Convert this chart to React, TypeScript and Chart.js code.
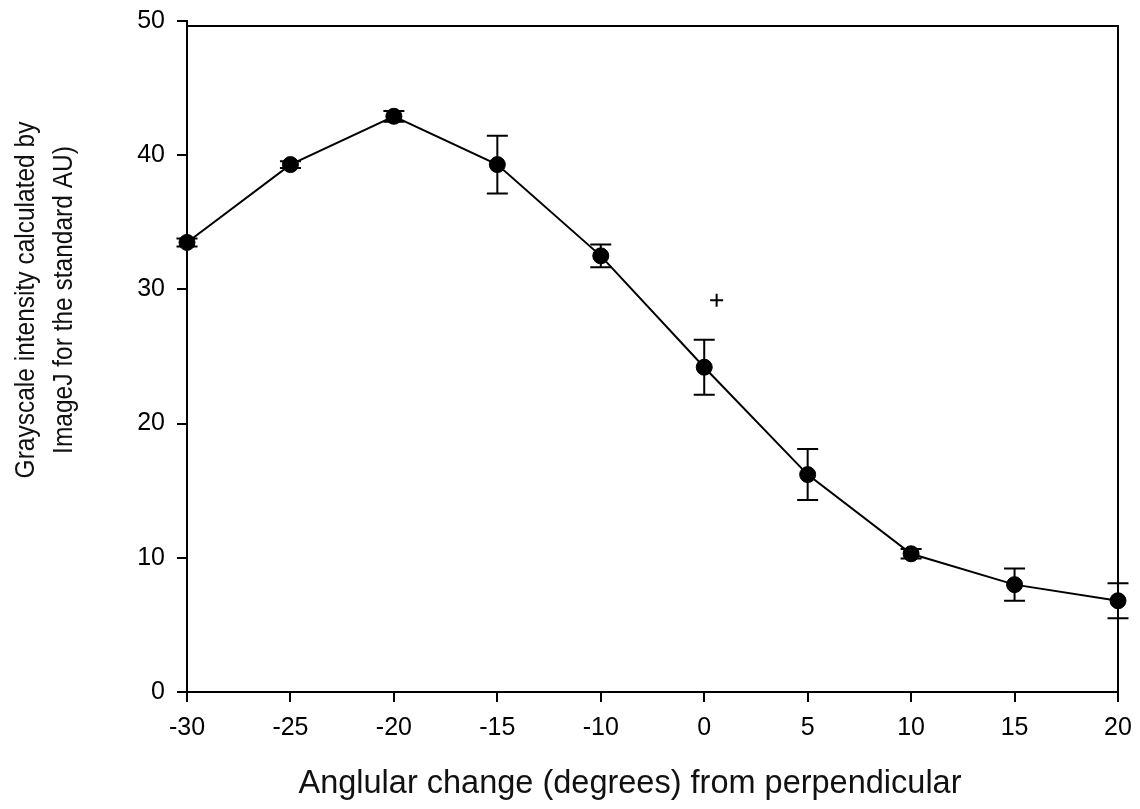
import { useEffect, useRef } from 'react';
import { Chart, registerables } from 'chart.js';

Chart.register(...registerables);

const X_LABELS = ['-30', '-25', '-20', '-15', '-10', '0', '5', '10', '15', '20'];
const MEANS = [33.5, 39.3, 42.9, 39.3, 32.5, 24.2, 16.2, 10.3, 8.0, 6.8];
const ERRORS = [0.3, 0.25, 0.4, 2.15, 0.85, 2.05, 1.9, 0.35, 1.2, 1.3];
const MARK_X = [5.12];
const MARK_Y = [29.2];
const Y_MIN = 0;
const Y_MAX = 50;
const Y_STEP = 10;
const X_TITLE = 'Anglular change (degrees) from perpendicular';
const Y_TITLE = ['Grayscale intensity calculated by', 'ImageJ for the standard AU)'];

const FONT = '"Liberation Sans", Arial, Helvetica, sans-serif';

const errorBarPlugin = {
  id: 'errorBars',
  afterDatasetsDraw(chart: any) {
    const { ctx, scales } = chart;
    const xs = scales.x;
    const ys = scales.y;
    ctx.save();
    ctx.strokeStyle = '#000';
    ctx.lineWidth = 2;
    const cap = 10.5;
    MEANS.forEach((m, i) => {
      const e = ERRORS[i];
      const px = xs.getPixelForValue(i);
      const top = ys.getPixelForValue(m + e);
      const bot = ys.getPixelForValue(m - e);
      ctx.beginPath();
      ctx.moveTo(px, top);
      ctx.lineTo(px, bot);
      ctx.moveTo(px - cap, top);
      ctx.lineTo(px + cap, top);
      ctx.moveTo(px - cap, bot);
      ctx.lineTo(px + cap, bot);
      ctx.stroke();
    });
    ctx.restore();
  },
};

const framePlugin = {
  id: 'frame',
  afterDraw(chart: any) {
    const { ctx, chartArea } = chart;
    ctx.save();
    ctx.strokeStyle = '#000';
    ctx.lineWidth = 2;
    const frameTop = chartArea.top + 5;
    ctx.beginPath();
    ctx.moveTo(chartArea.left, frameTop);
    ctx.lineTo(chartArea.right, frameTop);
    ctx.lineTo(chartArea.right, chartArea.bottom);
    ctx.stroke();
    ctx.restore();
  },
};

const titlesPlugin = {
  id: 'axisTitles',
  afterDraw(chart: any) {
    const { ctx } = chart;
    ctx.save();
    ctx.fillStyle = '#111';
    ctx.font = `32.5px ${FONT}`;
    ctx.textAlign = 'center';
    ctx.textBaseline = 'alphabetic';
    ctx.fillText(X_TITLE, 630, 793);
    ctx.font = `24.5px ${FONT}`;
    ctx.textBaseline = 'middle';
    const xs = [26, 64];
    Y_TITLE.forEach((line, i) => {
      ctx.save();
      ctx.translate(xs[i], 300);
      ctx.rotate(-Math.PI / 2);
      ctx.scale(1, 1.12);
      ctx.fillText(line, 0, 0);
      ctx.restore();
    });
    ctx.restore();
  },
};

export default function App() {
  const canvasRef = useRef<HTMLCanvasElement | null>(null);

  useEffect(() => {
    document.body.style.margin = '0';
    const canvas = canvasRef.current;
    if (!canvas) return;

    const mainData = MEANS.map((y, i) => ({ x: i, y }));
    const markData = MARK_X.map((x, i) => ({ x, y: MARK_Y[i] }));

    const chart = new Chart(canvas, {
      type: 'line',
      data: {
        datasets: [
          {
            data: mainData,
            borderColor: '#000',
            borderWidth: 2,
            backgroundColor: '#000',
            pointBackgroundColor: '#000',
            pointBorderColor: '#000',
            pointRadius: 8,
            pointBorderWidth: 1,
            tension: 0,
            fill: false,
            clip: false,
          },
          {
            data: markData,
            showLine: false,
            pointStyle: 'cross',
            pointRadius: 6.5,
            pointBorderWidth: 2,
            pointBorderColor: '#000',
            borderColor: '#000',
          },
        ],
      },
      options: {
        animation: false,
        responsive: true,
        maintainAspectRatio: false,
        layout: { autoPadding: false, padding: { top: 21, right: 22, left: 0, bottom: 0 } },
        plugins: {
          legend: { display: false },
          tooltip: { enabled: false },
        },
        scales: {
          x: {
            type: 'linear',
            min: 0,
            max: X_LABELS.length - 1,
            afterBuildTicks: (scale: any) => {
              scale.ticks = X_LABELS.map((_, i) => ({ value: i }));
            },
            afterFit: (scale: any) => {
              scale.height = 117;
              scale.paddingLeft = 0;
              scale.paddingRight = 0;
            },
            ticks: {
              callback: (v: any) => X_LABELS[Math.round(Number(v))] ?? '',
              color: '#000',
              font: { family: FONT, size: 25 },
              padding: 11,
              maxRotation: 0,
              autoSkip: false,
            },
            grid: {
              display: true,
              drawOnChartArea: false,
              drawTicks: true,
              tickLength: 10,
              color: '#000',
              lineWidth: 2,
            },
            border: { display: true, color: '#000', width: 2 },
            title: { display: false },
          },
          y: {
            type: 'linear',
            min: Y_MIN,
            max: Y_MAX,
            afterFit: (scale: any) => {
              scale.width = 187;
              scale.paddingTop = 0;
              scale.paddingBottom = 0;
            },
            ticks: {
              stepSize: Y_STEP,
              color: '#000',
              font: { family: FONT, size: 25 },
              padding: 12,
            },
            grid: {
              display: true,
              drawOnChartArea: false,
              drawTicks: true,
              tickLength: 10,
              color: '#000',
              lineWidth: 2,
            },
            border: { display: true, color: '#000', width: 2 },
            title: { display: false },
          },
        },
      },
      plugins: [errorBarPlugin, framePlugin, titlesPlugin],
    });

    return () => {
      chart.destroy();
    };
  }, []);

  return (
    <div style={{ position: 'relative', width: 1140, height: 809 }}>
      <canvas ref={canvasRef} />
    </div>
  );
}
